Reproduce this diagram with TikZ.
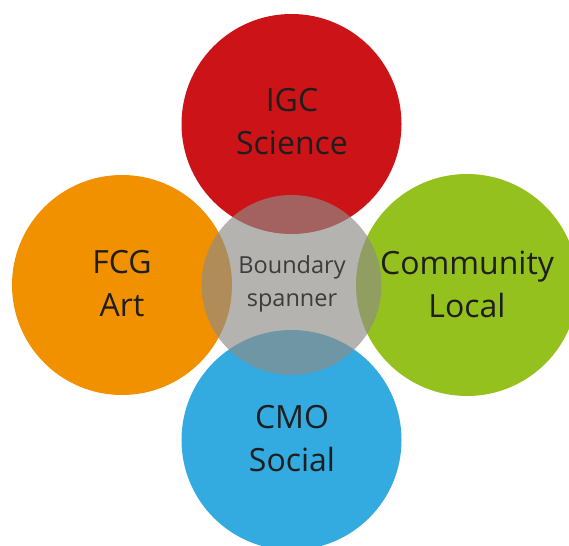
\documentclass[tikz,border=0pt]{standalone}
\usepackage{fontspec}
\setmainfont{Open Sans}
\definecolor{cred}{RGB}{204,19,24}
\definecolor{corange}{RGB}{242,145,0}
\definecolor{cgreen}{RGB}{149,193,31}
\definecolor{cblue}{RGB}{51,170,224}
\definecolor{cgray}{RGB}{142,140,134}
\definecolor{ctext}{RGB}{30,30,30}
\definecolor{ctextc}{RGB}{60,60,60}
\begin{document}
\begin{tikzpicture}[x=1pt,y=-1pt,
  disc/.style={circle,inner sep=0pt,minimum size=220pt},
  hub/.style={circle,inner sep=0pt,minimum size=180pt,fill=cgray,fill opacity=0.66},
  outertext/.style={align=center,text=ctext,font=\fontsize{32}{43}\selectfont},
  hubtext/.style={align=center,text=ctextc,font=\fontsize{23.5}{33}\selectfont}]
\useasboundingbox (0,0) rectangle (569,545);
\fill[white] (0,0) rectangle (569,545);
\node[disc,fill=cred] (igc) at (291.5,124) {};
\node[disc,fill=corange] (fcg) at (122,285) {};
\node[disc,fill=cgreen,minimum size=222pt] (com) at (467,285) {};
\node[disc,fill=cblue] (cmo) at (291.5,440) {};
\node[hub] (bs) at (291.5,285) {};
\node[outertext] (igct) at (292,122) {IGC\\Science};
\node[outertext] (fcgt) at (122,284) {FCG\\Art};
\node[outertext] (comt) at (467,284) {Community\\Local};
\node[outertext] (cmot) at (292,439) {CMO\\Social};
\node[hubtext] (bst) at (292,284) {Boundary\\spanner};
\end{tikzpicture}
\end{document}
